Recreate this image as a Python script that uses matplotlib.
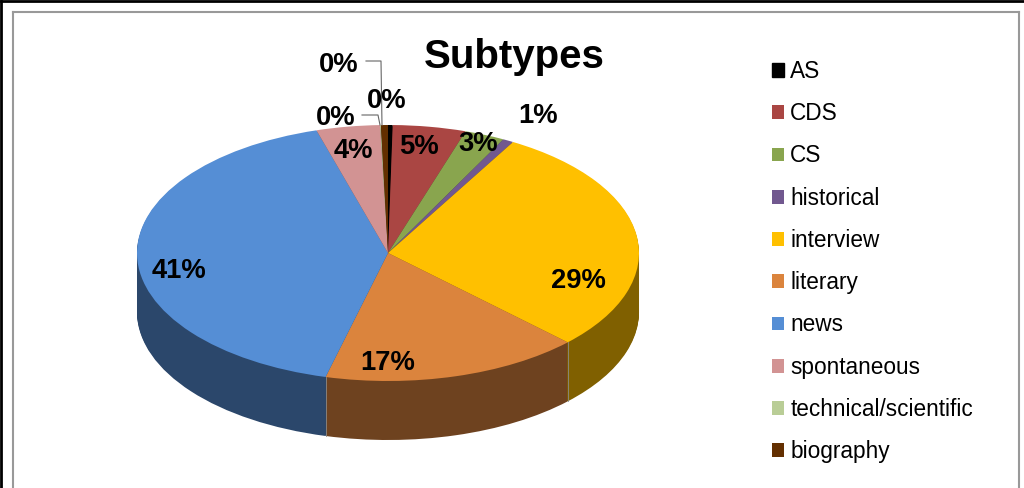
import numpy as np
import matplotlib
matplotlib.use("Agg")
import matplotlib.pyplot as plt
from matplotlib.colors import to_rgb

plt.rcParams['font.family'] = ['Liberation Sans', 'DejaVu Sans']

# data
subtypes = ['AS', 'CDS', 'CS', 'historical', 'interview', 'literary', 'news',
            'spontaneous', 'technical/scientific', 'biography']
shares = [0.3, 4.7, 2.6, 0.7, 29.0, 16.7, 41.4, 4.1, 0.05, 0.45]
colors = ['#000000', '#AA4643', '#89A54E', '#71588F', '#FFC000', '#DB843D',
          '#558ED5', '#D29393', '#B9CD96', '#632F00']

# where the percent labels sit, in pixels of the image (same order as subtypes)
label_px = [(387, 101), (419, 147), (478, 144), (538, 116), (578, 281),
            (388, 363), (179, 271), (353, 151), (336, 118), (339, 65)]

W, H = 1024, 488
CX, CY = 388, 253   # pie centre
RX, RY = 251, 128   # ellipse radii
DEPTH = 59          # height of the side wall
LIM = 1.7


def pie_layer(ax, cols, offset):
    wedges, _ = ax.pie(shares, colors=cols, startangle=90, counterclock=False,
                       center=(0, offset), radius=1,
                       wedgeprops={'linewidth': 0})
    return wedges


fig = plt.figure(figsize=(W / 100, H / 100), dpi=100)

# pie axes: one data unit is RX pixels across and RY pixels down
pie_ax = fig.add_axes([(CX - LIM * RX) / W, (H - CY - LIM * RY) / H,
                       2 * LIM * RX / W, 2 * LIM * RY / H])

# side wall: darker copies stacked from the bottom up
dark = [tuple(c * 0.5 for c in to_rgb(col)) for col in colors]
for d in range(DEPTH, 0, -1):
    pie_layer(pie_ax, dark, -d / RY)
wedges = pie_layer(pie_ax, colors, 0)

# faint seams on the front of the wall
for w in wedges:
    t = np.radians(w.theta1)
    if np.sin(t) < 0:
        pie_ax.plot([np.cos(t)] * 2, [np.sin(t), np.sin(t) - DEPTH / RY],
                    color='#8a8a8a', lw=0.6)

pie_ax.set_aspect('auto')
pie_ax.set_xlim(-LIM, LIM)
pie_ax.set_ylim(-LIM, LIM)
pie_ax.axis('off')

# overlay in image pixels for the text and frame
over = fig.add_axes([0, 0, 1, 1], facecolor='none')
over.set_xlim(0, W)
over.set_ylim(H, 0)
over.axis('off')

# frame
over.plot([1, 1], [H, 1], color='black', lw=2)
over.plot([1, W], [1, 1], color='black', lw=2)
over.plot([13, 13], [H, 12], color='#999999', lw=1.5)
over.plot([13, 1019], [12, 12], color='#999999', lw=1.5)
over.plot([1019, 1019], [12, H], color='#999999', lw=1.5)

over.text(514, 57, 'Subtypes', fontsize=29, fontweight='bold', ha='center', va='center')

total = sum(shares)
for share, (x, y) in zip(shares, label_px):
    over.text(x, y, f"{share / total * 100:.0f}%", fontsize=19.7, fontweight='bold',
              ha='center', va='center', color='black')

# leader lines for the two small slices
over.plot([366, 381, 382], [61, 61, 125], color='#666666', lw=0.8)
over.plot([362, 378, 380], [115, 115, 125], color='#666666', lw=0.8)

leg = fig.legend(wedges, subtypes, loc='upper left', bbox_to_anchor=(772 / W, 1 - 60 / H),
                 frameon=False, fontsize=16.3, handlelength=0.55, handleheight=0.55,
                 handletextpad=0.26, labelspacing=0.85, borderpad=0, borderaxespad=0)
leg.legend_handles[0].set_edgecolor('black')
leg.legend_handles[0].set_linewidth(1)

fig.savefig('out.png', dpi=100)
